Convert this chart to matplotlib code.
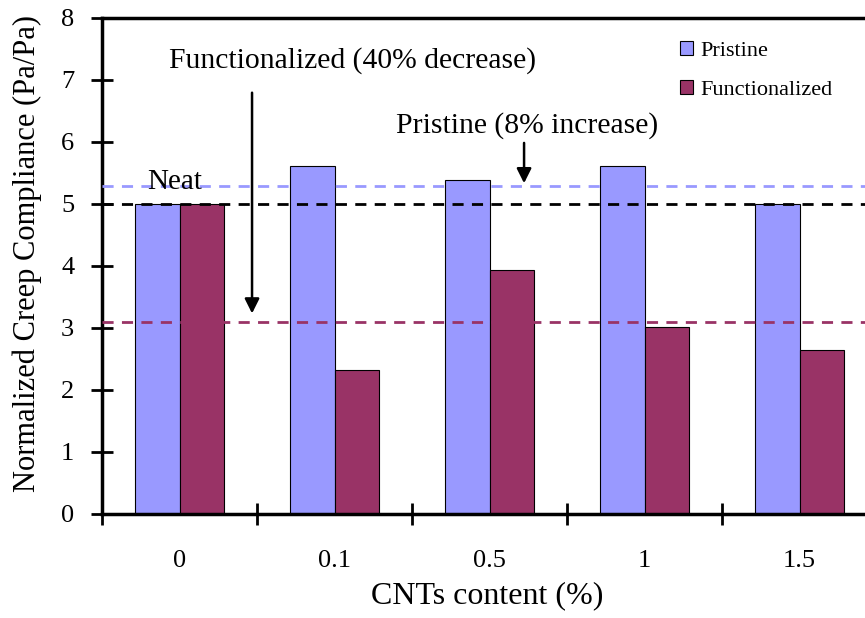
import matplotlib
matplotlib.use("Agg")
import matplotlib.pyplot as plt
import numpy as np

categories = ["0", "0.1", "0.5", "1", "1.5"]
pristine = [5.0, 5.62, 5.38, 5.62, 5.0]
functionalized = [5.0, 2.32, 3.93, 3.01, 2.64]
ref_neat = 5.0
ref_pristine = 5.29
ref_func = 3.1
yticks = [0, 1, 2, 3, 4, 5, 6, 7, 8]

c_pri = "#9999FF"
c_fun = "#993366"

plt.rcParams['font.family'] = ['Liberation Serif', 'DejaVu Serif']

fig = plt.figure(figsize=(8.65, 6.18), dpi=100)
W, H = 865, 618
x0, x1 = 102, 877
y0, y1 = 514, 18
ax = fig.add_axes([x0 / W, 1 - y0 / H, (x1 - x0) / W, (y0 - y1) / H])

x = np.arange(len(categories))
w = 0.285
ax.bar(x - w / 2, pristine, w, color=c_pri, edgecolor="black", linewidth=0.8, label="Pristine", zorder=2)
ax.bar(x + w / 2, functionalized, w, color=c_fun, edgecolor="black", linewidth=0.8, label="Functionalized", zorder=2)

ax.axhline(ref_pristine, color=c_pri, ls=(0, (4, 3)), lw=2.0, zorder=3)
ax.axhline(ref_neat, color="black", ls=(0, (4, 3)), lw=2.0, zorder=3)
ax.axhline(ref_func, color=c_fun, ls=(0, (4, 3)), lw=2.0, zorder=3)

ax.set_xlim(-0.5, len(categories) - 0.5)
ax.set_ylim(0, 8)
ax.set_yticks(yticks)
ax.set_yticklabels([str(v) for v in yticks], fontsize=19)
ax.set_xticks(x)
ax.set_xticklabels(categories, fontsize=19)
ax.tick_params(axis="x", which="major", length=0, pad=26)
ax.set_xticks(np.arange(len(categories)) - 0.5, minor=True)
ax.tick_params(axis="x", which="minor", length=16, width=2, direction="inout")
ax.tick_params(axis="y", which="major", length=16, width=2, direction="inout", pad=12)

for s in ["left", "bottom", "top"]:
    ax.spines[s].set_linewidth(2.5)
ax.spines["right"].set_visible(False)

ax.set_ylabel("Normalized Creep Compliance (Pa/Pa)", fontsize=22)
ax.yaxis.set_label_coords((42 - x0) / (x1 - x0), (y0 - 254) / (y0 - y1))
ax.set_xlabel("CNTs content (%)", fontsize=23)
ax.xaxis.set_label_coords((487 - x0) / (x1 - x0), -(581 - y0) / (y0 - y1))

ax.annotate("", xy=(0.468, 3.19), xytext=(0.468, 6.84),
            arrowprops=dict(arrowstyle="-|>", color="black", lw=1.8, mutation_scale=22), zorder=4)
ax.text(1.113, 7.32, "Functionalized (40% decrease)", fontsize=21.3, ha="center", va="center")
ax.annotate("", xy=(2.223, 5.29), xytext=(2.223, 6.03),
            arrowprops=dict(arrowstyle="-|>", color="black", lw=1.8, mutation_scale=22), zorder=4)
ax.text(2.24, 6.26, "Pristine (8% increase)", fontsize=21.3, ha="center", va="center")
ax.text(-0.03, 5.35, "Neat", fontsize=21, ha="center", va="center", zorder=4)

leg = ax.legend(loc="upper left", bbox_to_anchor=((671 - x0) / (x1 - x0), 1 - 14 / (y0 - y1)),
                frameon=False, fontsize=16, handlelength=0.6, handleheight=0.6,
                handletextpad=0.3, labelspacing=0.85, borderaxespad=0)

fig.savefig("out.png", dpi=100)
